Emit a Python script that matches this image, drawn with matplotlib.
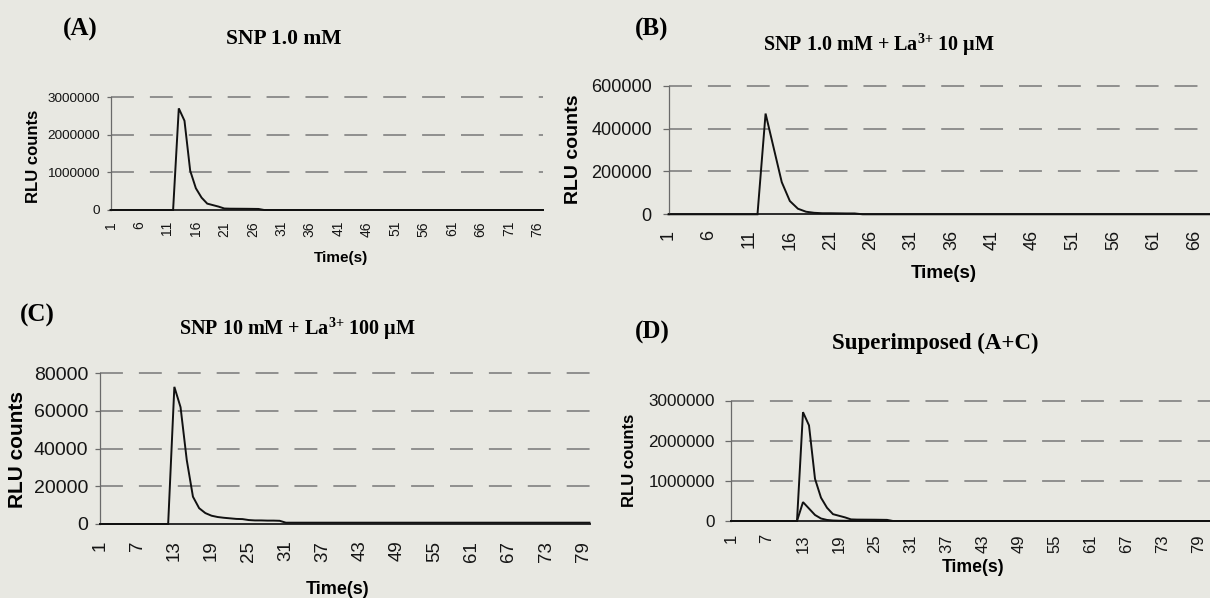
import matplotlib
matplotlib.use("Agg")
import matplotlib.pyplot as plt

plt.rcParams["lines.scale_dashes"] = False
plt.rcParams["mathtext.fontset"] = "custom"
plt.rcParams["mathtext.rm"] = "Liberation Serif:bold"
plt.rcParams["mathtext.bf"] = "Liberation Serif:bold"
plt.rcParams["mathtext.it"] = "Liberation Serif:bold:italic"
plt.rcParams["mathtext.default"] = "rm"

# ---------------- data ----------------
# (A) SNP 1.0 mM, 77 one-second readings
time_a = list(range(1, 78))
rlu_a = ([0] * 11 +
         [0, 2710000, 2380000, 1050000, 580000, 330000, 170000, 130000, 90000,
          40000, 35000, 34000, 33000, 32000, 30000, 28000, 0] +
         [0] * 49)

# (B) SNP 1.0 mM + La3+ 10 uM
time_b = list(range(1, 78))
rlu_b = ([0] * 12 +
         [470000, 310000, 150000, 62000, 26000, 12000, 7000, 5000, 5000,
          4500, 4000, 4000] +
         [0] * 53)

# (C) SNP 10 mM + La3+ 100 uM, 80 readings
time_c = list(range(1, 81))
rlu_c = ([0] * 12 +
         [72800, 62000, 34000, 14500, 8400, 5800, 4400, 3700, 3300, 3000,
          2700, 2600, 2100, 1900, 1900, 1800, 1800, 1700] +
         [700] * 50)

# (D) superimposed traces on a longer time axis
time_d = list(range(1, 83))
rlu_d_high = rlu_a + [0] * 5
rlu_d_low = rlu_b + [0] * 5

ticks_a = list(range(1, 78, 5))
ticks_b = list(range(1, 67, 5))
ticks_c = list(range(1, 81, 6))
ticks_d = list(range(1, 83, 6))

yticks_a = [0, 1000000, 2000000, 3000000]
yticks_b = [0, 200000, 400000, 600000]
yticks_c = [0, 20000, 40000, 60000, 80000]
yticks_d = [0, 1000000, 2000000, 3000000]

# ---------------- figure ----------------
W, H = 1210, 598
BG = "#e8e8e2"
fig = plt.figure(figsize=(W / 100, H / 100), dpi=100, facecolor=BG)

SANS = "Liberation Sans"
SERIF = "Liberation Serif"


def axes_px(x0, x1, ytop, ybot):
    return fig.add_axes([x0 / W, 1 - ybot / H, (x1 - x0) / W, (ybot - ytop) / H])


def ftext(x, y, s, **kw):
    fig.text(x / W, 1 - y / H, s, ha="center", va="center", **kw)


def panel(ax, xs, series, xlim, xticks, yticks, ysize, xsize, ypad, xpad, ticklen):
    ax.set_facecolor("none")
    for ys in series:
        ax.plot(xs[:len(ys)], ys, color="#111111", lw=1.4, solid_joinstyle="miter",
                zorder=3, clip_on=False)
    ax.set_xlim(*xlim)
    ax.set_ylim(yticks[0], yticks[-1])
    ax.set_xticks(xticks)
    ax.set_xticklabels([str(t) for t in xticks], rotation=90, fontsize=xsize,
                       family=SANS, color="#151515")
    ax.set_yticks(yticks)
    ax.set_yticklabels([str(t) for t in yticks], fontsize=ysize, family=SANS,
                       color="#151515")
    ax.tick_params(axis="x", length=0, pad=xpad)
    ax.tick_params(axis="y", length=ticklen, width=0.9, color="#6a6a6a", pad=ypad)
    for s in ("top", "right"):
        ax.spines[s].set_visible(False)
    ax.spines["left"].set_color("#6a6a6a")
    ax.spines["left"].set_linewidth(0.9)
    ax.spines["bottom"].set_color("#2a2a2a")
    ax.spines["bottom"].set_linewidth(1.4)
    ax.spines["bottom"].set_zorder(2)
    for y in yticks[1:]:
        ax.axhline(y, color="#808080", lw=1.2, ls=(0, (16.5, 11.5)), zorder=1,
                   clip_on=False)


# (A)
ax_a = axes_px(110.5, 543, 97.5, 210)
panel(ax_a, time_a, [rlu_a], (1, 77), ticks_a, yticks_a, 9.7, 10, 4.8, 8, 2.9)
ftext(80, 29, "(A)", family=SERIF, weight="bold", fontsize=18)
ftext(284, 39.5, "SNP 1.0 mM", family=SERIF, weight="bold", fontsize=15.5)
ftext(33, 156, "RLU counts", family=SANS, weight="bold", fontsize=12, rotation=90)
ftext(341, 258, "Time(s)", family=SANS, weight="bold", fontsize=11)

# (B)
ax_b = axes_px(668.5, 1283.3, 85.7, 214.3)
panel(ax_b, time_b, [rlu_b], (1, 77), ticks_b, yticks_b, 13, 13, 8, 11, 4)
ftext(652, 29, "(B)", family=SERIF, weight="bold", fontsize=18)
ftext(879, 45, "SNP 1.0 mM + La$^{3{+}}$ 10 \u03bcM", family=SERIF, weight="bold",
      fontsize=14.5)
ftext(573.5, 149, "RLU counts", family=SANS, weight="bold", fontsize=14, rotation=90)
ftext(943.5, 273, "Time(s)", family=SANS, weight="bold", fontsize=13.5)

# (C)
ax_c = axes_px(100, 589.5, 373.3, 524)
panel(ax_c, time_c, [rlu_c], (1, 80), ticks_c, yticks_c, 14, 13.5, 4.8, 12, 3.6)
ftext(37, 315, "(C)", family=SERIF, weight="bold", fontsize=18)
ftext(297, 329, "SNP 10 mM + La$^{3{+}}$ 100 \u03bcM", family=SERIF, weight="bold",
      fontsize=14.5)
ftext(17.5, 450, "RLU counts", family=SANS, weight="bold", fontsize=15, rotation=90)
ftext(338, 590, "Time(s)", family=SANS, weight="bold", fontsize=13)

# (D)
ax_d = axes_px(731, 1217, 400.5, 521)
panel(ax_d, time_d, [rlu_d_high, rlu_d_low], (1, 82), ticks_d, yticks_d, 12.3, 12,
      7.2, 9.4, 4.3)
ftext(652, 332, "(D)", family=SERIF, weight="bold", fontsize=18)
ftext(935, 343, "Superimposed (A+C)", family=SERIF, weight="bold", fontsize=16.5)
ftext(629, 460, "RLU counts", family=SANS, weight="bold", fontsize=12, rotation=90)
ftext(973, 568, "Time(s)", family=SANS, weight="bold", fontsize=12.7)

fig.savefig("out.png", dpi=100, facecolor=BG)
